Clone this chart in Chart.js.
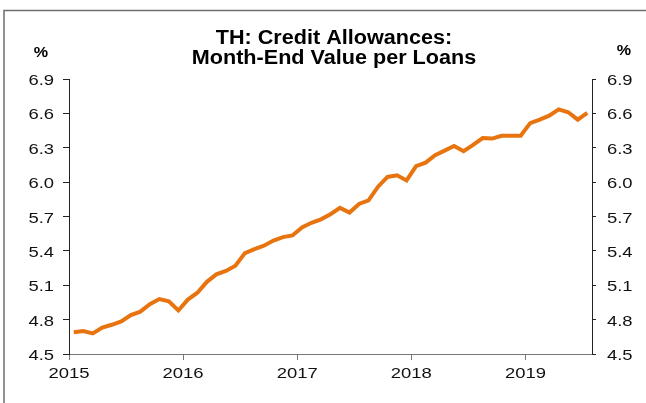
<!DOCTYPE html>
<html>
<head>
<meta charset="utf-8">
<script src="https://cdn.jsdelivr.net/npm/chart.js@4.4.1/dist/chart.umd.min.js"></script>
<style>
html, body { margin: 0; padding: 0; background: #fff; }
canvas { display: block; }
</style>
</head>
<body>
<canvas id="chart" width="646" height="403"></canvas>
<script>
var titleLines = ['TH: Credit Allowances:', 'Month-End Value per Loans'];
var unitLabel = '%';
var yearLabels = ['2015', '2016', '2017', '2018', '2019'];
// monthly values, Jan 2015 .. Jul 2019
var allowance = [
  4.69, 4.70, 4.68, 4.73, 4.755, 4.785, 4.84, 4.87, 4.935, 4.98, 4.96, 4.88,
  4.975, 5.035, 5.13, 5.195, 5.225, 5.27, 5.38, 5.415, 5.445, 5.49, 5.52, 5.535,
  5.605, 5.645, 5.675, 5.72, 5.775, 5.735, 5.81, 5.84, 5.96, 6.045, 6.06, 6.015,
  6.14, 6.17, 6.235, 6.275, 6.315, 6.27, 6.325, 6.385, 6.38, 6.405, 6.405, 6.405,
  6.515, 6.545, 6.58, 6.635, 6.61, 6.545, 6.605
];
var yTicks = [4.5, 4.8, 5.1, 5.4, 5.7, 6.0, 6.3, 6.6, 6.9];

var font = '"Liberation Sans", Arial, sans-serif';

var points = allowance.map(function(v, i) { return {x: i, y: v}; });

// the source uses wide tick glyphs: stretch the tick labels horizontally
var labelStretch = {x: [1.23, 0], y: [1.27, 2], y2: [1.27, 2]};
var baseDrawLabels = Chart.LinearScale.prototype.drawLabels;
Chart.LinearScale.prototype.drawLabels = function(area) {
  var ctx = this.ctx;
  var s = labelStretch[this.id] || [1, 0];
  var tr = ctx.translate;
  ctx.translate = function(x, y) {
    tr.call(ctx, x, y + s[1]);
    ctx.scale(s[0], 1);
  };
  try {
    baseDrawLabels.call(this, area);
  } finally {
    delete ctx.translate;
  }
};

function stretchedText(ctx, text, x, y, sx) {
  ctx.save();
  ctx.translate(x, y);
  ctx.scale(sx, 1);
  ctx.fillText(text, 0, 0);
  ctx.restore();
}

var decor = {
  id: 'decor',
  beforeDraw: function(chart) {
    var ctx = chart.ctx;
    ctx.save();
    ctx.strokeStyle = '#6e6e6e';
    ctx.lineWidth = 1.5;
    ctx.beginPath();
    ctx.moveTo(4, 403);
    ctx.lineTo(4, 10.5);
    ctx.lineTo(646, 10.5);
    ctx.stroke();
    ctx.restore();
  },
  afterDraw: function(chart) {
    var ctx = chart.ctx;
    ctx.save();
    ctx.fillStyle = '#000';
    ctx.textAlign = 'center';
    ctx.textBaseline = 'alphabetic';
    ctx.font = 'bold 20px ' + font;
    stretchedText(ctx, titleLines[0], 334, 44, 1.08);
    stretchedText(ctx, titleLines[1], 334, 64, 1.08);
    ctx.font = 'bold 14px ' + font;
    stretchedText(ctx, unitLabel, 41, 56.5, 1.15);
    stretchedText(ctx, unitLabel, 624, 55, 1.15);
    ctx.restore();
  }
};

function yAxis(pos, width, tickLen, pad) {
  return {
    type: 'linear',
    position: pos,
    min: 4.5,
    max: 6.9,
    afterFit: function(scale) { scale.width = width; },
    afterBuildTicks: function(scale) {
      scale.ticks = yTicks.map(function(v) { return {value: v}; });
    },
    grid: { drawOnChartArea: false, drawTicks: true, tickLength: tickLen, color: '#222', lineWidth: 1 },
    border: { display: true, color: '#222', width: 1 },
    ticks: {
      color: '#111',
      font: { family: font, size: 14.5 },
      padding: pad,
      callback: function(v) { return v.toFixed(1); }
    }
  };
}

new Chart(document.getElementById('chart').getContext('2d'), {
  type: 'line',
  data: {
    datasets: [{
      label: 'Credit allowances',
      data: points,
      borderColor: '#e8740f',
      backgroundColor: '#e8740f',
      borderWidth: 4,
      pointRadius: 0,
      tension: 0,
      yAxisID: 'y'
    }]
  },
  options: {
    responsive: false,
    animation: false,
    layout: { padding: { top: 79, left: 0, right: 0, bottom: 0 } },
    plugins: {
      legend: { display: false },
      title: { display: false },
      tooltip: { enabled: false }
    },
    scales: {
      x: {
        type: 'linear',
        min: -0.5,
        max: allowance.length - 0.5,
        afterFit: function(scale) { scale.height = 49; },
        afterBuildTicks: function(scale) {
          scale.ticks = yearLabels.map(function(y, k) { return {value: k * 12 - 0.5}; });
        },
        grid: { drawOnChartArea: false, drawTicks: true, tickLength: 6, color: '#777' },
        border: { display: true, color: '#777', width: 1 },
        ticks: {
          color: '#111',
          font: { family: font, size: 15 },
          padding: 5,
          maxRotation: 0,
          autoSkip: false,
          callback: function(v, idx) { return yearLabels[idx]; }
        }
      },
      y: yAxis('left', 69, 6, 9),
      y2: yAxis('right', 54, 4, 11)
    }
  },
  plugins: [decor]
});
</script>
</body>
</html>
